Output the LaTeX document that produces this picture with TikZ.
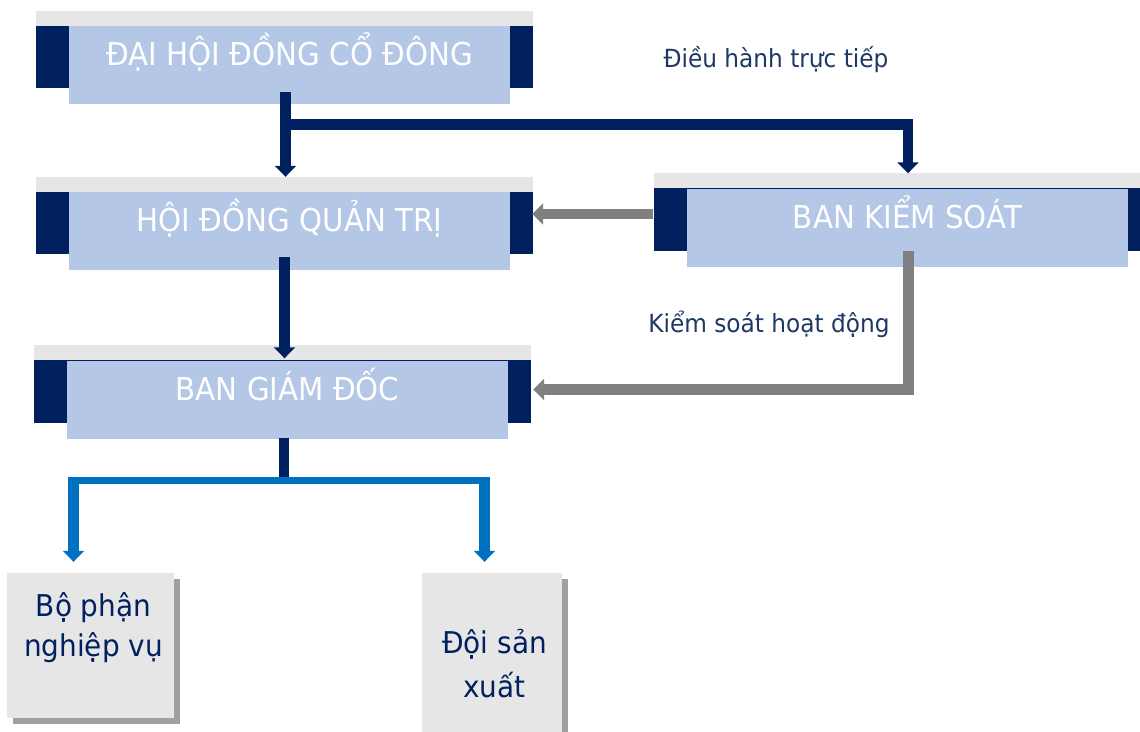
\documentclass[tikz,border=0pt]{standalone}
\usepackage{fontspec}
\setmainfont{DejaVu Sans}[FakeStretch=0.93]
\usetikzlibrary{arrows.meta}
\usetikzlibrary{calc}
\usetikzlibrary{backgrounds}
\usetikzlibrary{shadows}
\usepackage{xcolor}

\definecolor{boxblue}{HTML}{B4C7E7}
\definecolor{boxnavy}{HTML}{002060}
\definecolor{bargray}{HTML}{E6E6E6}
\definecolor{shadegray}{HTML}{A0A0A0}
\definecolor{linkgray}{HTML}{808080}
\definecolor{linkblue}{HTML}{0070C0}
\definecolor{labelnavy}{HTML}{1F3864}

\tikzset{
  headbox/.style={fill=boxblue, text=white, inner sep=0pt, minimum width=441pt,
    minimum height=78pt, text height=23pt, text depth=22pt,
    font=\fontsize{31.5}{36}\selectfont},
  leafbox/.style={fill=bargray, inner sep=0pt,
    general shadow={fill=shadegray, shadow xshift=6pt, shadow yshift=-6pt}},
  leaftext/.style={text=boxnavy, align=center, inner sep=0pt, font=\fontsize{30}{40}\selectfont},
  flowtext/.style={text=labelnavy, inner sep=0pt, font=\fontsize{25}{30}\selectfont},
  headtip/.style={-{Triangle[width=21pt,length=11pt]}},
  navyline/.style={draw=boxnavy, line width=10.5pt},
  grayline/.style={draw=linkgray, line width=10.5pt},
  blueline/.style={draw=linkblue, line width=7.5pt},
  bluearrow/.style={draw=linkblue, line width=11pt, headtip}
}

\begin{document}
\begin{tikzpicture}[x=1pt,y=-1pt]

        \useasboundingbox (0,0) rectangle (1140,731);

        % Boxes
        \node[headbox] (dhcd) at (289.5,65) {ĐẠI HỘI ĐỒNG CỔ ĐÔNG};
        \node[headbox] (hdqt) at (289.5,231) {HỘI ĐỒNG QUẢN TRỊ};
        \node[headbox] (bgd) at (287.5,399.5) {BAN GIÁM ĐỐC};
        \node[headbox] (bks) at (907.5,227.5) {BAN KIỂM SOÁT};

        \node[leafbox, minimum width=167pt, minimum height=145pt] (bpnv) at (90.5,645.5) {};
        \node[leafbox, minimum width=140pt, minimum height=190pt] (dsx) at (492,668) {};
        \node[leaftext, anchor=north] (bpnvtext) at (93.5,592) {Bộ phận\\nghiệp vụ};
        \node[leaftext, anchor=north, font=\fontsize{30}{44}\selectfont] (dsxtext) at (494.5,629) {Đội sản\\xuất};

        % Bars behind the boxes
        \begin{scope}[on background layer]
        \foreach \b in {dhcd,hdqt,bgd,bks}
        {
          \fill[bargray] ($(\b.north west)+(-33,-15)$) rectangle ($(\b.north east)+(23,0)$);
          \fill[boxnavy] ($(\b.north west)+(-33,0)$) rectangle ($(\b.north east)+(23,62.5)$);
        }
        \end{scope}

        % Labels
        \node[flowtext, anchor=base] (dhtt) at (776,67) {Điều hành trực tiếp};
        \node[flowtext, anchor=base] (ksh) at (769,332) {Kiểm soát hoạt động};

        % Direct lines
        \coordinate (fork) at ($(dhcd.south)+(-4,20.5)$);
        \draw[navyline, headtip] ($(dhcd.south)+(-4,-12)$) -- ($(hdqt.north)+(-4,-15)$);
        \draw[navyline, headtip] (fork) -| ($(bks.north)+(0.5,-15)$);
        \draw[navyline, headtip] ($(hdqt.south)+(-5,-13)$) -- ($(bgd.north)+(-3,-2)$);

        % Control lines
        \draw[grayline, headtip] ($(bks.west)+(-34,-13.5)$) -- ($(hdqt.east)+(22,-17)$);
        \draw[grayline, headtip] ($(bks.south)+(1,-16)$) |- ($(bgd.east)+(25,-10)$);

        % Down to the units
        \coordinate (split) at ($(bgd.south)+(-3.5,41.5)$);
        \draw[navyline] ($(bgd.south)+(-3.5,-1)$) -- (split);
        \draw[blueline] ($(bpnv.north)+(-22.5,-92.5)$) -- ($(dsx.north)+(-2,-92.5)$);
        \draw[bluearrow] ($(bpnv.north)+(-17,-96)$) -- ($(bpnv.north)+(-17,-11)$);
        \draw[bluearrow] ($(dsx.north)+(-7.5,-96)$) -- ($(dsx.north)+(-7.5,-11)$);

    \end{tikzpicture}
\end{document}
